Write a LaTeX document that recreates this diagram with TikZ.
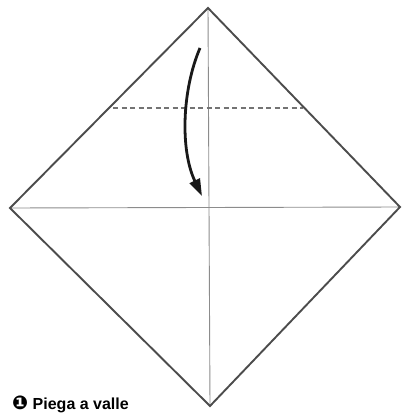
\documentclass[tikz,border=0pt]{standalone}
\usepackage{fontspec}
\setmainfont{Liberation Sans}
\newfontfamily\symfont{DejaVu Sans}
\usetikzlibrary{positioning,arrows.meta}
\tikzset{
  edgeline/.style={draw=black!70, line width=1.9pt, line join=miter},
  creaseline/.style={draw=black!45, line width=0.9pt},
  valleyline/.style={draw=black!55, line width=1.4pt, dash pattern=on 5pt off 3.5pt},
  foldarrow/.style={-{Triangle[length=17pt,width=11pt]}, line width=2.8pt, black!90},
  caption/.style={font=\fontsize{16}{18}\selectfont\bfseries, anchor=base west, inner sep=0pt}
}

\begin{document}
\begin{tikzpicture}[x=1pt, y=-1pt]
  \useasboundingbox (0,0) rectangle (403,414);
  % corners of the square
  \coordinate (top) at (208,8);
  \coordinate (left) at (10,208);
  \coordinate (right) at (400,207);
  \coordinate (bottom) at (210,406);
  % creases
  \draw[creaseline] (left) -- (right);
  \draw[creaseline] (top) -- (bottom);
  % valley fold line
  \coordinate (vl) at (113,108);
  \coordinate (vr) at (303,108);
  \draw[valleyline] (vl) -- (vr);
  % outline
  \draw[edgeline] (top) -- (right) -- (bottom) -- (left) -- cycle;
  % fold arrow
  \coordinate (as) at (200,48);
  \coordinate (ae) at (202,196);
  \draw[foldarrow] (as) .. controls (182,90) and (180,150) .. (ae);
  % step label
  \node[caption] (step) at (12,409.5) {{\symfont\fontsize{19}{20}\selectfont ❶} Piega a valle};
\end{tikzpicture}
\end{document}
